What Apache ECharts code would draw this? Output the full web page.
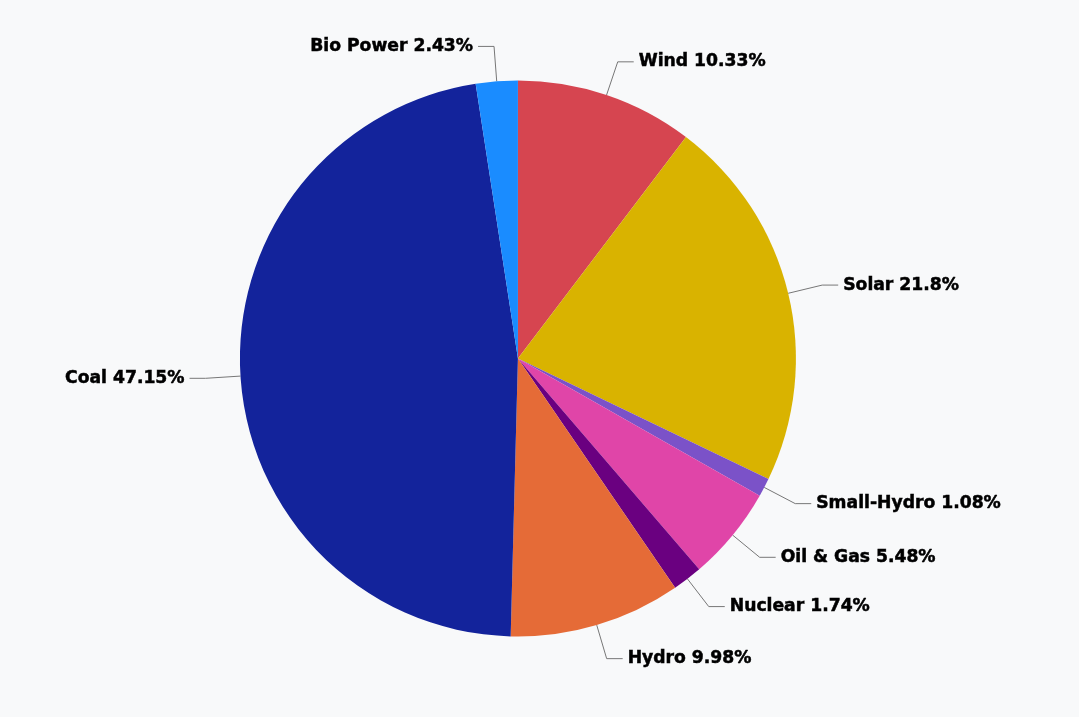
<!DOCTYPE html>
<html>
<head>
<meta charset="utf-8">
<script src="https://cdn.jsdelivr.net/npm/echarts@6/dist/echarts.min.js"></script>
<style>
  html, body { margin: 0; padding: 0; background: #f8f9fa; }
  #chart { width: 1079px; height: 717px; }
</style>
</head>
<body>
<div id="chart"></div>
<script>
const sources = ['Wind', 'Solar', 'Small-Hydro', 'Oil & Gas', 'Nuclear', 'Hydro', 'Coal', 'Bio Power']
const shares = [10.33, 21.8, 1.08, 5.48, 1.74, 9.98, 47.15, 2.43]
const colors = ['#d64550', '#d9b300', '#7b52c8', '#e045a8', '#6a0080', '#e56b37', '#13239b', '#1a8cff']

const chart = echarts.init(document.getElementById('chart'))

const option = {
  backgroundColor: '#f8f9fa',
  color: colors,
  series: [
    {
      type: 'pie',
      center: ['48%', '50%'],
      radius: 278,
      startAngle: 90,
      clockwise: true,
      avoidLabelOverlap: true,
      data: sources.map((name, i) => ({ name: name, value: shares[i] })),
      label: {
        formatter: '{b} {c}%',
        fontFamily: 'DejaVu Sans',
        fontWeight: 'bold',
        fontSize: 17.2,
        color: '#000',
        textBorderColor: '#000',
        textBorderWidth: 0.5
      },
      labelLine: {
        length: 35,
        length2: 16,
        lineStyle: { color: '#777', width: 1 }
      },
      itemStyle: { borderWidth: 0 }
    }
  ]
}

chart.setOption(option)
</script>
</body>
</html>
